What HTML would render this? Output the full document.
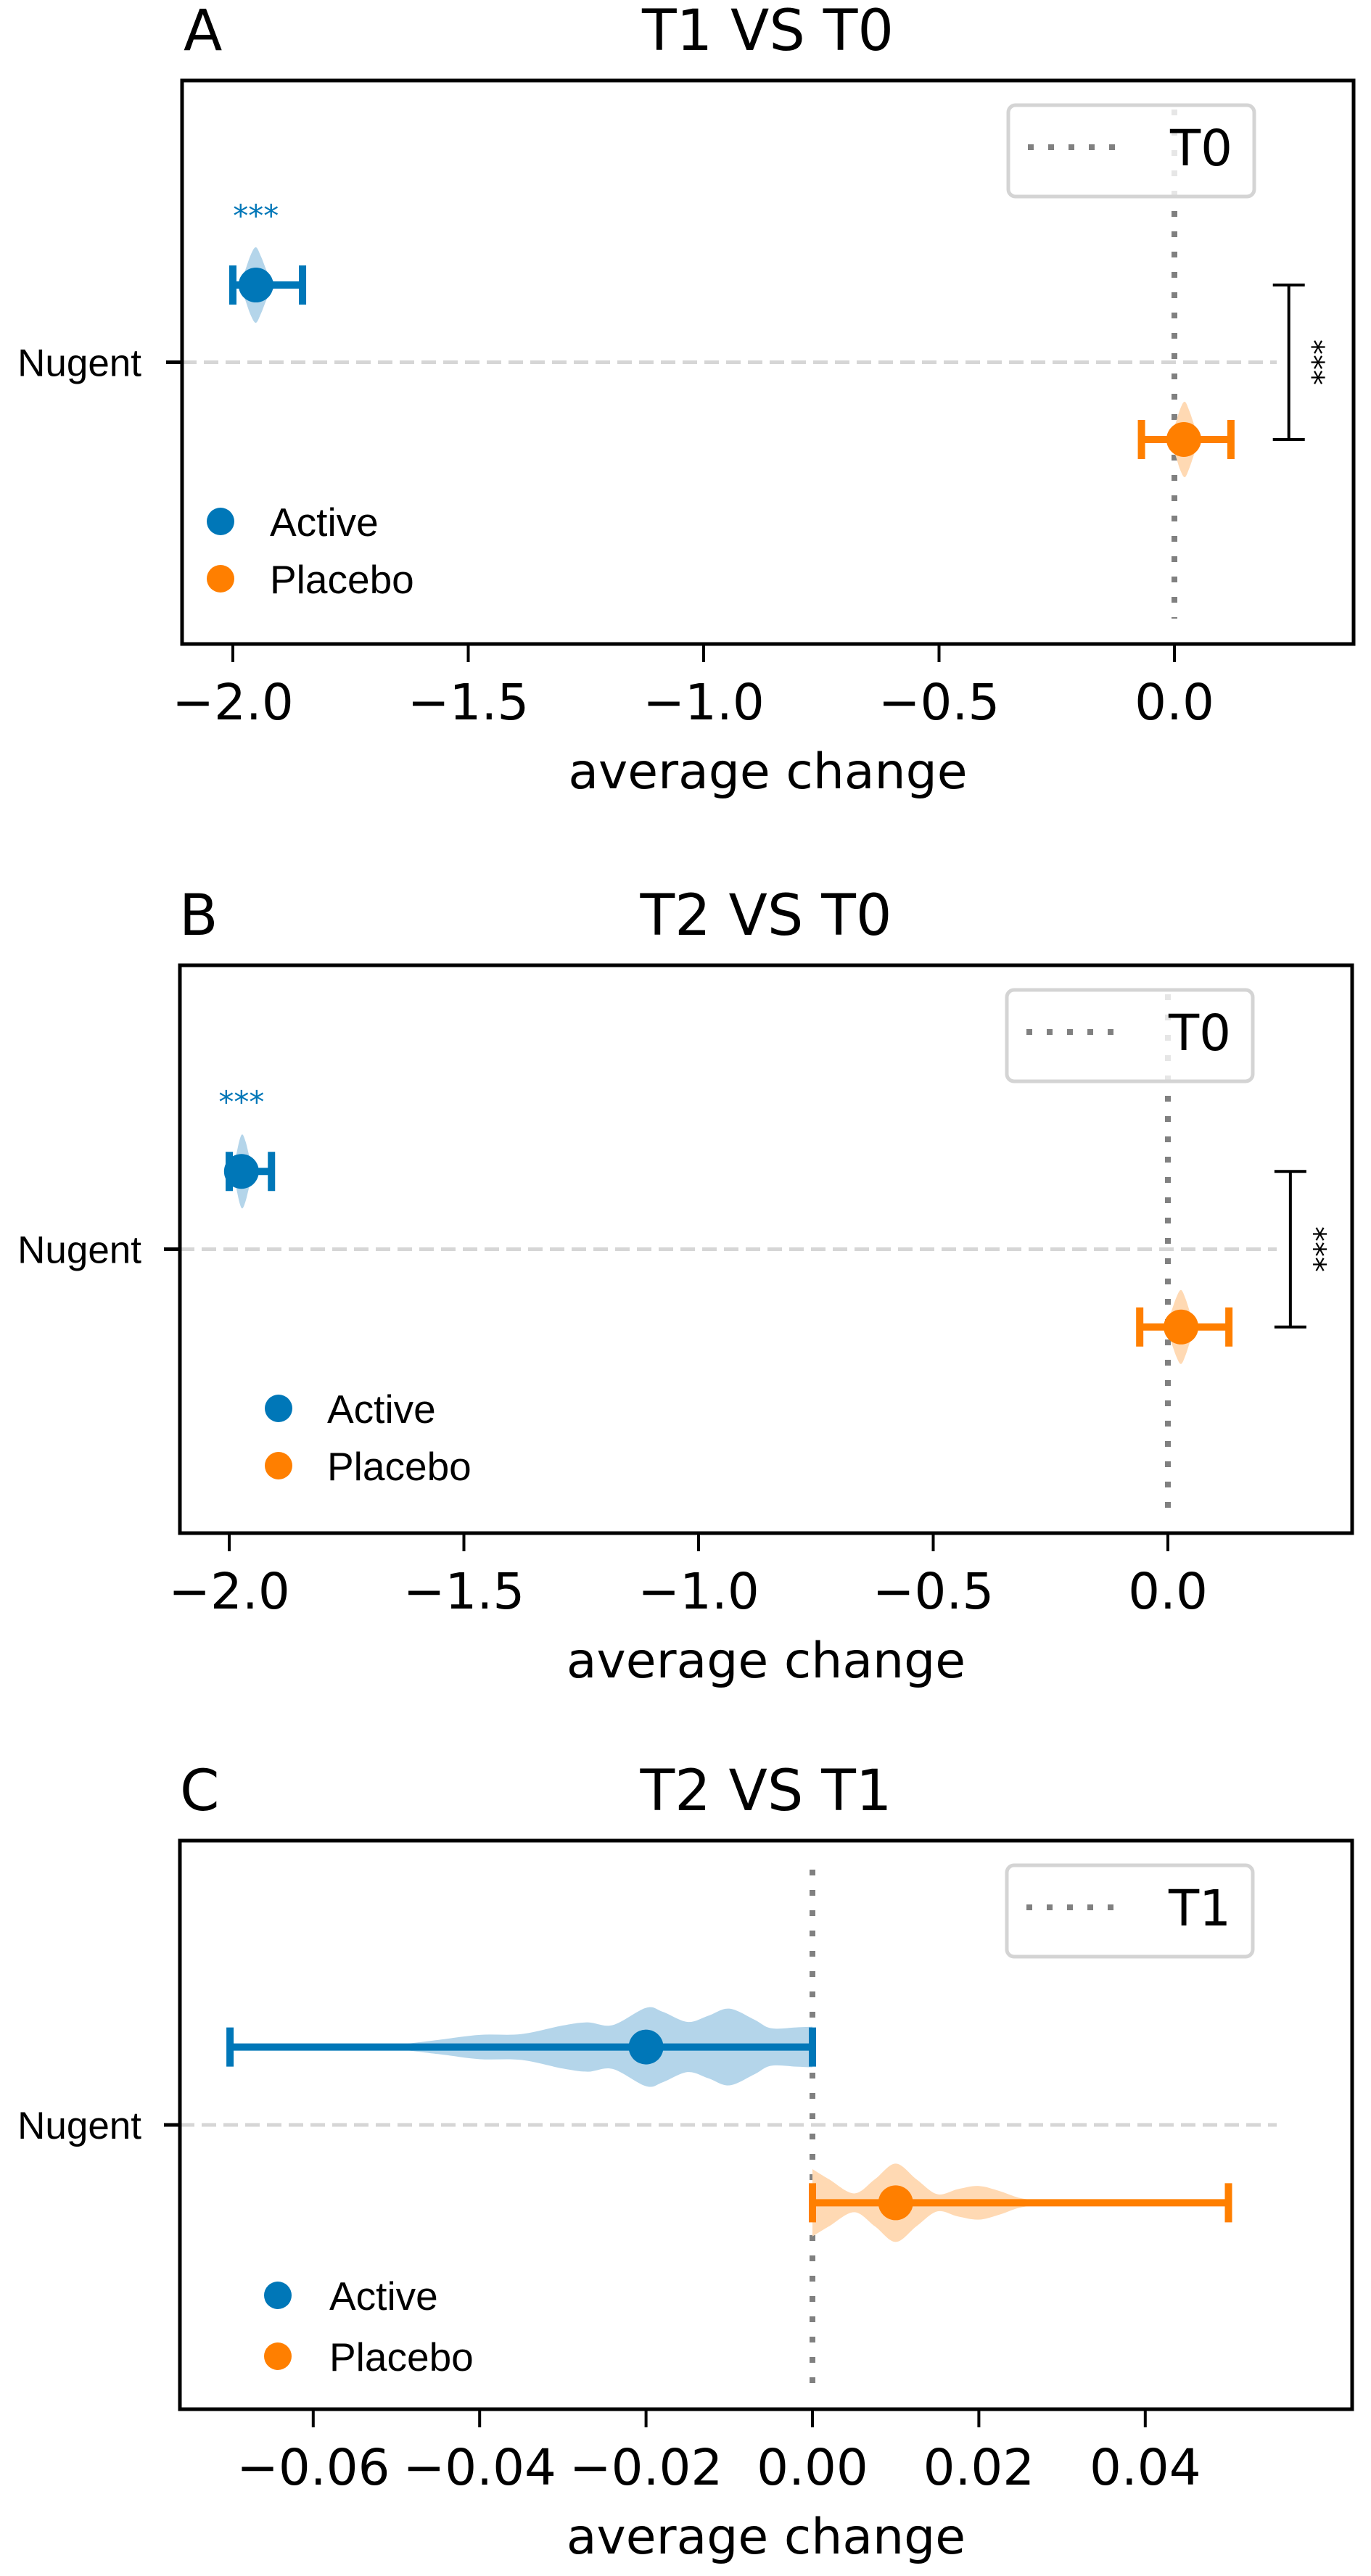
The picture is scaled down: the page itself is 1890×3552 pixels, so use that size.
<!DOCTYPE html>
<html><head><meta charset="utf-8">
<style>
html,body{margin:0;padding:0;background:#fff;}
svg{display:block;}
.dv{font-family:"DejaVu Sans","Liberation Sans",sans-serif;}
.ls{font-family:"Liberation Sans","DejaVu Sans",sans-serif;}
</style></head>
<body>
<svg id="fig" width="1890" height="3552" viewBox="0 0 1890 3552" xmlns="http://www.w3.org/2000/svg"></svg>
<script>
// ---- data ----
const panelLetters = ["A","B","C"];
const panelTitles = ["T1 VS T0","T2 VS T0","T2 VS T1"];
const refLabels = ["T0","T0","T1"];
const categories = ["Nugent"];
const groups = ["Active","Placebo"];
const tickValsA = [-2.0,-1.5,-1.0,-0.5,0.0];
const tickLabelsA = ["\u22122.0","\u22121.5","\u22121.0","\u22120.5","0.0"];
const tickValsC = [-0.06,-0.04,-0.02,0.00,0.02,0.04];
const tickLabelsC = ["\u22120.06","\u22120.04","\u22120.02","0.00","0.02","0.04"];
// means and error bar ranges [Active, Placebo]
const meansA = [-1.951, 0.020];
const lowA = [-2.000, -0.070];
const highA = [-1.852, 0.120];
const meansB = [-1.974, 0.028];
const lowB = [-2.000, -0.060];
const highB = [-1.910, 0.130];
const meansC = [-0.020, 0.010];
const lowC = [-0.070, 0.000];
const highC = [0.000, 0.050];
// violin profiles: values and density (half-width, relative 0..1)
const violinActiveA_x = [-1.987,-1.975,-1.962,-1.951,-1.940,-1.925,-1.906];
const violinActiveA_d = [0,0.35,0.8,1.0,0.75,0.3,0];
const violinPlaceboA_x = [-0.016,0.000,0.012,0.022,0.032,0.045,0.060];
const violinPlaceboA_d = [0,0.35,0.8,1.0,0.75,0.3,0];
const violinActiveB_x = [-1.993,-1.985,-1.978,-1.972,-1.965,-1.957,-1.948];
const violinActiveB_d = [0,0.45,0.85,1.0,0.8,0.4,0];
const violinPlaceboB_x = [-0.010,0.005,0.018,0.028,0.038,0.050,0.063];
const violinPlaceboB_d = [0,0.35,0.8,1.0,0.75,0.3,0];
const violinActiveC_x = [-0.052,-0.045,-0.040,-0.035,-0.030,-0.027,-0.024,-0.020,-0.018,-0.015,-0.0125,-0.010,-0.007,-0.005,-0.002,0.000];
const violinActiveC_d = [0,0.18,0.31,0.33,0.55,0.63,0.56,1.0,0.9,0.64,0.8,0.98,0.7,0.48,0.5,0.52];
const violinPlaceboC_x = [0.000,0.002,0.005,0.0075,0.010,0.0125,0.015,0.0175,0.020,0.0225,0.025,0.028,0.031];
const violinPlaceboC_d = [0.86,0.6,0.24,0.6,1.0,0.6,0.22,0.35,0.43,0.3,0.12,0.04,0];
const sigLabels = ["***","***",""];

// ---- layout (pixels) ----
const panels = [
 {top:111,bottom:888,left:251,right:1866,zero:1619,unit:649,ticks:tickValsA,tlabels:tickLabelsA,
  means:meansA,low:lowA,high:highA,
  violins:[[violinActiveA_x,violinActiveA_d],[violinPlaceboA_x,violinPlaceboA_d]],vmax:52,
  bracketX:0.243,legX:304,legTxt:372,legY:[608,687],letterX:253},
 {top:1331,bottom:2114,left:248,right:1864,zero:1610,unit:647,ticks:tickValsA,tlabels:tickLabelsA,
  means:meansB,low:lowB,high:highB,
  violins:[[violinActiveB_x,violinActiveB_d],[violinPlaceboB_x,violinPlaceboB_d]],vmax:51,
  bracketX:0.261,legX:384,legTxt:451,legY:[611,690],letterX:247},
 {top:2538,bottom:3322,left:248,right:1864,zero:1120,unit:11470,ticks:tickValsC,tlabels:tickLabelsC,
  means:meansC,low:lowC,high:highC,
  violins:[[violinActiveC_x,violinActiveC_d],[violinPlaceboC_x,violinPlaceboC_d]],vmax:54,
  bracketX:null,legX:383,legTxt:454,legY:[627,711],letterX:248}
];
const colors = ["#0077b8","#ff7f00"];
const fills = ["#b4d5ea","#ffd9b3"];
const NS = "http://www.w3.org/2000/svg";
const svg = document.getElementById("fig");

function mk(tag, attrs, parent, text){
  const e = document.createElementNS(NS, tag);
  for (const k in attrs) e.setAttribute(k, attrs[k]);
  if (text !== undefined) e.textContent = text;
  (parent||svg).appendChild(e);
  return e;
}
function crPath(pts){
  let d = "M"+pts[0][0]+","+pts[0][1];
  for (let i=0;i<pts.length-1;i++){
    const p0=pts[Math.max(0,i-1)],p1=pts[i],p2=pts[i+1],p3=pts[Math.min(pts.length-1,i+2)];
    const c1=[p1[0]+(p2[0]-p0[0])/6,p1[1]+(p2[1]-p0[1])/6];
    const c2=[p2[0]-(p3[0]-p1[0])/6,p2[1]-(p3[1]-p1[1])/6];
    d+=" C"+c1[0]+","+c1[1]+" "+c2[0]+","+c2[1]+" "+p2[0]+","+p2[1];
  }
  return d;
}

panels.forEach((P, pi) => {
  const g = mk("g", {});
  
  
  const xs = v => P.zero + v*P.unit;
  const yMid = (P.top+P.bottom)/2;
  const off = (P.bottom-P.top)*0.137;
  const ys = gi => yMid + (gi===0 ? -off : off);
  const cx = (P.left+P.right)/2;

  // letter + title
  const L = mk("text",{x:P.letterX,y:P.top-42,"font-size":78,class:"dv",fill:"#000"},g,panelLetters[pi]);
  
  
  const T = mk("text",{x:cx,y:P.top-42,"font-size":78,class:"dv","text-anchor":"middle",fill:"#000"},g,panelTitles[pi]);
  
  

  // nugent gridline
  const gl = mk("line",{x1:P.left,x2:1760,y1:yMid,y2:yMid,stroke:"#d6d6d6","stroke-width":5,"stroke-dasharray":"20 10"},g);
  
  

  // reference dotted line
  const rl = mk("line",{x1:xs(0),x2:xs(0),y1:P.top+40,y2:P.bottom-35,stroke:"#808080","stroke-width":8,"stroke-dasharray":"8 20"},g);
  
  

  // violins, error bars, markers
  groups.forEach((gn, gi) => {
    const vx = P.violins[gi][0], vd = P.violins[gi][1];
    const y0 = ys(gi);
    const top = vx.map((v,i)=>[xs(v), y0 - vd[i]*P.vmax]);
    const bot = vx.map((v,i)=>[xs(v), y0 + vd[i]*P.vmax]).reverse();
    const d = crPath(top) + " L" + bot[0][0]+","+bot[0][1] + crPath(bot).slice(crPath(bot).indexOf(" C")) + " Z";
    const vp = mk("path",{d:d,fill:fills[gi],stroke:"none"},g);
    
    

    const eb = mk("g",{},g);
    
    
    mk("line",{x1:xs(P.low[gi]),x2:xs(P.high[gi]),y1:y0,y2:y0,stroke:colors[gi],"stroke-width":10},eb);
    [P.low[gi],P.high[gi]].forEach(v=>{
      mk("line",{x1:xs(v),x2:xs(v),y1:y0-27,y2:y0+27,stroke:colors[gi],"stroke-width":10},eb);
    });
    const m = mk("circle",{cx:xs(P.means[gi]),cy:y0,r:24,fill:colors[gi]},g);
    
    
  });

  // significance
  if (sigLabels[pi]) {
    const s = mk("text",{x:xs(P.means[0]),y:ys(0)-81,"font-size":42,class:"dv","text-anchor":"middle",fill:colors[0]},g,sigLabels[pi]);
    
    
    const bx = xs(P.bracketX);
    const br = mk("g",{},g);
    
    
    mk("line",{x1:bx,x2:bx,y1:ys(0),y2:ys(1),stroke:"#000","stroke-width":4},br);
    mk("line",{x1:bx-22,x2:bx+22,y1:ys(0),y2:ys(0),stroke:"#000","stroke-width":4},br);
    mk("line",{x1:bx-22,x2:bx+22,y1:ys(1),y2:ys(1),stroke:"#000","stroke-width":4},br);
    const st = mk("text",{x:0,y:24,"font-size":42,class:"dv","text-anchor":"middle",fill:"#000",transform:"translate("+(bx+43)+","+yMid+") rotate(90)"},br,"***");
    
    
  }

  // ref legend
  const lg = mk("g",{},g);
  
  
  const lx = P.right-137-339, ly = P.top+34;
  mk("rect",{x:lx,y:ly,width:339,height:126,rx:10,fill:"#fff","fill-opacity":0.8,stroke:"#d4d4d4","stroke-width":5},lg);
  mk("line",{x1:lx+27,x2:lx+163,y1:ly+58,y2:ly+58,stroke:"#808080","stroke-width":8,"stroke-dasharray":"8 20"},lg);
  mk("text",{x:lx+223,y:ly+83,"font-size":69,class:"dv",fill:"#000"},lg,refLabels[pi]);

  // group legend
  groups.forEach((gn, gi) => {
    const e = mk("g",{},g);
    
    
    mk("circle",{cx:P.legX,cy:P.top+P.legY[gi],r:19,fill:colors[gi]},e);
    mk("text",{x:P.legTxt,y:P.top+P.legY[gi]+20,"font-size":55,class:"ls",fill:"#000"},e,gn);
  });

  // axes frame
  const fr = mk("rect",{x:P.left,y:P.top,width:P.right-P.left,height:P.bottom-P.top,fill:"none",stroke:"#000","stroke-width":5},g);
  
  

  // y tick + label
  mk("line",{x1:P.left-22,x2:P.left,y1:yMid,y2:yMid,stroke:"#000","stroke-width":5},g);
  const yl = mk("text",{x:195,y:yMid+19,"font-size":53,class:"ls","text-anchor":"end",fill:"#000"},g,categories[0]);
  
  

  // x ticks
  P.ticks.forEach((v, i) => {
    const tg = mk("g",{},g);
    
    
    mk("line",{x1:xs(v),x2:xs(v),y1:P.bottom,y2:P.bottom+25,stroke:"#000","stroke-width":4},tg);
    mk("text",{x:xs(v),y:P.bottom+104,"font-size":69,class:"dv","text-anchor":"middle",fill:"#000"},tg,P.tlabels[i]);
  });
  const xl = mk("text",{x:cx,y:P.bottom+199,"font-size":68,class:"dv","text-anchor":"middle",fill:"#000"},g,"average change");
  
  
});
</script>
</body></html>
